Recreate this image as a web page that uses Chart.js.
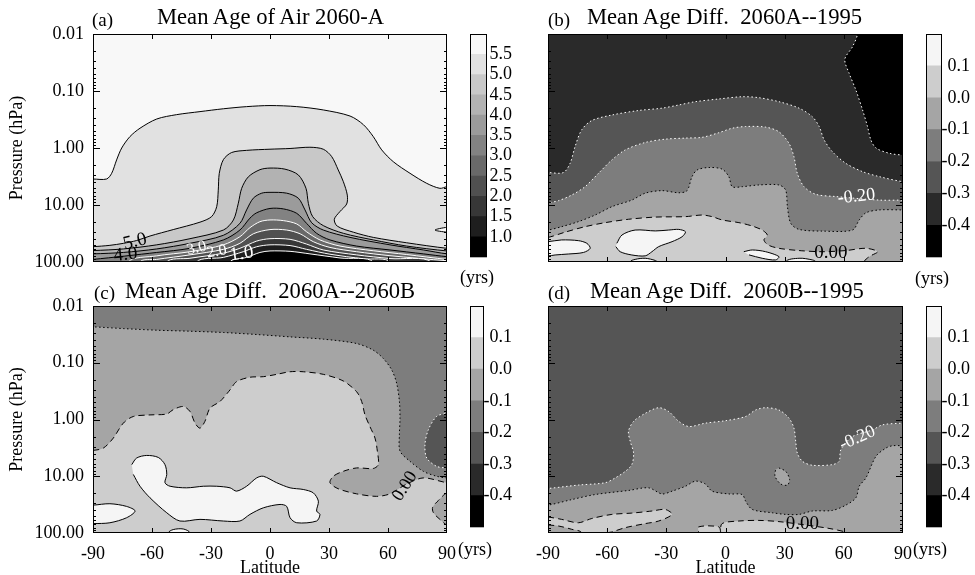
<!DOCTYPE html>
<html>
<head>
<meta charset="utf-8">
<title>Mean Age of Air</title>
<script src="https://cdn.jsdelivr.net/npm/chart.js@4.4.1/dist/chart.umd.min.js"></script>
<style>
  body { margin: 0; background: #fff; }
  #page { position: relative; width: 975px; height: 575px; overflow: hidden; }
  #page canvas { position: absolute; }
  .txt { position: absolute; font-family: 'Liberation Serif', 'DejaVu Serif', serif; color: #000; white-space: pre; line-height: 1; }
</style>
</head>
<body>
<div id="page">
  <canvas id="panelA" width="460" height="290" style="left:0;top:0"></canvas>
  <canvas id="barA" width="54" height="270" style="left:460px;top:0"></canvas>
  <canvas id="panelB" width="455" height="290" style="left:460px;top:0"></canvas>
  <canvas id="barB" width="57" height="270" style="left:915px;top:0"></canvas>
  <canvas id="panelC" width="460" height="295" style="left:0;top:285px"></canvas>
  <canvas id="barC" width="54" height="255" style="left:460px;top:285px"></canvas>
  <canvas id="panelD" width="455" height="295" style="left:460px;top:285px"></canvas>
  <canvas id="barD" width="57" height="255" style="left:915px;top:285px"></canvas>

  <div class="txt" style="left:92px;top:10px;font-size:19px">(a)</div>
  <div class="txt" style="left:157px;top:6px;font-size:22.6px">Mean Age of Air 2060-A</div>
  <div class="txt" style="left:548px;top:10px;font-size:19px">(b)</div>
  <div class="txt" style="left:587px;top:6px;font-size:22.6px">Mean Age Diff.  2060A--1995</div>
  <div class="txt" style="left:94px;top:283px;font-size:19px">(c)</div>
  <div class="txt" style="left:125px;top:280px;font-size:22.6px">Mean Age Diff.  2060A--2060B</div>
  <div class="txt" style="left:548px;top:283px;font-size:19px">(d)</div>
  <div class="txt" style="left:590px;top:280px;font-size:22.6px">Mean Age Diff.  2060B--1995</div>

  <div class="txt" style="left:460px;top:268px;font-size:18px">(yrs)</div>
  <div class="txt" style="left:915px;top:269px;font-size:18px">(yrs)</div>
  <div class="txt" style="left:458px;top:540px;font-size:18px">(yrs)</div>
  <div class="txt" style="left:913px;top:540px;font-size:18px">(yrs)</div>
</div>

<script>
Chart.defaults.font.family = "'Liberation Serif', 'DejaVu Serif', serif";
Chart.defaults.color = '#000';

// contour levels and the grey of each band between them (lowest band first)
const ageLevels = [0.5, 1.0, 1.5, 2.0, 2.5, 3.0, 3.5, 4.0, 4.5, 5.0, 5.5, 6.0];
const ageGray = [0, 30, 55, 80, 105, 130, 155, 178, 200, 225, 248];
const diffLevels = [-0.5, -0.4, -0.3, -0.2, -0.1, 0.0, 0.1, 0.2];
const diffGray = [0, 42, 85, 125, 165, 205, 245];

const latTicks = [-90, -60, -30, 0, 30, 60, 90];
const pressureTicks = [0.01, 0.1, 1, 10, 100];

// ---- (a) mean age 2060-A, contours as (latitude, hPa) ----
const a55Lat = [-90, -83.1, -80.5, -78, -75.4, -71.2, -66.1, -57.6, -47.5, -35.6, -23.7, -11.9, 0, 13.6, 27.1, 40.7, 47.5, 52.5, 56.8, 62.7, 71.2, 79.7, 86.4, 90];
const a55P = [3.5, 3.5, 2.78, 1.62, 1.0, 0.63, 0.45, 0.31, 0.26, 0.23, 0.205, 0.188, 0.18, 0.188, 0.215, 0.275, 0.39, 0.63, 1.08, 1.74, 2.78, 4.17, 5.1, 4.77];
const a55NotchLat = [90, 83.9, 90];
const a55NotchP = [24.6, 27.5, 30];
const a50Lat = [-90, -81.4, -74.6, -67.8, -61, -49.2, -35.6, -29.7, -27.1, -26.3, -25.8, -23.7, -19.5, -11.9, 0, 10.2, 20.3, 27.1, 31.4, 34.7, 37.3, 39.3, 39, 35.6, 32.7, 34.2, 42.4, 52.5, 69.5, 90];
const a50P = [53.8, 51, 47.1, 42, 35, 27, 20, 16, 10.7, 5.5, 2.8, 1.6, 1.2, 1.1, 1.05, 1.02, 0.97, 1.05, 1.42, 2.43, 3.9, 6.7, 9.6, 13, 17.8, 23.5, 30, 37, 46, 57.5];
const a45Lat = [-90, -74.6, -57.6, -40.7, -23.7, -18.6, -16.1, -14.4, -11, -5.1, 0, 7.6, 14.4, 18.3, 19.5, 21.7, 27.1, 37.3, 52.5, 69.5, 90];
const a45P = [63, 59, 50, 39, 27.5, 18.3, 9.3, 5.1, 3.2, 2.4, 2.25, 2.35, 2.97, 5.1, 9.35, 16, 23, 31.4, 41, 52.5, 64];
const a40Lat = [-90, -74.6, -57.6, -40.7, -23.7, -15.3, -11.9, -8.5, -4.2, 0, 8.5, 14.4, 17.8, 21.2, 27.1, 40.7, 61, 78, 90];
const a40P = [72, 68, 59, 47, 34, 21, 12.2, 7.6, 6.2, 6.0, 6.2, 7.6, 12.2, 20.5, 27.5, 37, 50, 61.5, 72];
const a35Lat = [-90, -57.6, -40.7, -23.7, -15.3, -10.2, -6.8, 0, 6.8, 13.6, 18.6, 23.7, 30.5, 44, 61, 78, 90];
const a35P = [90, 68, 57.5, 41, 27.5, 17, 13.7, 11.5, 11.7, 14, 21, 31.4, 41, 52.5, 61.5, 72, 80.5];
const a30Lat = [-72, -57.6, -40.7, -23.7, -15.3, -10.2, -5.1, 0, 6.8, 13.6, 18.6, 25.4, 35.6, 52.5, 69.5, 90];
const a30P = [100, 78, 66, 50, 36, 25, 19.6, 18.3, 18.8, 21.5, 29.5, 41, 52.5, 63.5, 74, 90];
const a25Lat = [-66, -57.6, -40.7, -23.7, -15.3, -8.5, 0, 8.5, 15.3, 22, 30.5, 44, 61, 90];
const a25P = [100, 90, 75, 60, 47, 32, 27, 27.5, 32, 44, 55.5, 66, 77.5, 95];
const a20Lat = [-52.5, -40.7, -23.7, -15.3, -6.8, 0, 10.2, 18.6, 27.1, 44, 61, 82];
const a20P = [100, 86, 70, 57.5, 43, 39, 40, 48.5, 61.5, 75, 87, 100];
const a15Lat = [-37.3, -23.7, -13.6, -6.8, 0, 10.2, 18.6, 30.5, 47.5, 61];
const a15P = [100, 83, 66, 54, 50, 51.5, 60, 73, 88, 100];
const a10Lat = [-20.3, -11.9, -5.1, 0, 10.2, 20.3, 35.6, 52.5];
const a10P = [100, 83, 68, 64, 65, 72, 85, 100];

// ---- (b) difference 2060A - 1995 ----
const b40Lat = [66.9, 64.4, 60.5, 62.7, 66.1, 69.5, 72, 73.7, 76.3, 83.1, 90];
const b40P = [0.01, 0.0167, 0.0278, 0.049, 0.096, 0.215, 0.42, 0.72, 1.0, 1.24, 1.33];
const b30Lat = [-90, -82.2, -78.8, -76.3, -72.9, -67.8, -57.6, -44.1, -32.2, -23.7, -15.3, -3.4, 8.5, 16.9, 27.1, 37.3, 44, 47.5, 50, 54.2, 61, 69.5, 78, 90];
const b30P = [2.7, 2.7, 1.86, 0.95, 0.48, 0.33, 0.264, 0.22, 0.2, 0.176, 0.154, 0.138, 0.126, 0.131, 0.154, 0.2, 0.282, 0.42, 0.72, 1.16, 1.86, 2.6, 3.18, 3.9];
const b20Lat = [-90, -84.7, -78, -71.2, -64.4, -57.6, -50.8, -40.7, -30.5, -20.3, -11.9, -3.4, 3.4, 10.2, 20.3, 27.1, 32.2, 34.7, 36.4, 39.8, 45.8, 55.9, 78, 90];
const b20P = [9.1, 8.4, 6.7, 4.77, 2.78, 1.62, 1.08, 0.8, 0.7, 0.67, 0.65, 0.54, 0.45, 0.42, 0.43, 0.52, 0.83, 1.42, 2.78, 4.77, 6.5, 7.1, 8.2, 8.2];
const b10Lat = [-90, -83.1, -74.6, -66.1, -57.6, -47.5, -40.7, -32.2, -23.7, -19.5, -17, -14.4, -8.5, -1.7, 1.7, 3.4, 8.5, 16.9, 27.1, 30.5, 31.4, 33.1, 37.3, 49.2, 64.4, 67.8, 71.2, 78, 90];
const b10P = [27.5, 24, 19.6, 15, 10.7, 8.2, 6.2, 5.6, 6.1, 5.6, 3.2, 2.43, 2.2, 2.35, 3.18, 4.77, 4.77, 4.45, 4.45, 5.46, 10.7, 21, 26.8, 28.7, 27.5, 18.3, 13.7, 12.2, 12.2];
const b00Lat = [-90, -81.4, -71.2, -61, -49.2, -35.6, -20.3, -11.9, -6.8, -1.7, 6.8, 13.6, 18.6, 21.2, 19.5, 21.7, 27.1, 37.3, 49.2, 61, 71.2, 77.1, 72.9, 70.3];
const b00P = [37, 30, 24, 20.4, 17.8, 16.3, 16, 15, 16, 18.3, 20.4, 23.4, 27.5, 33.6, 41, 50.4, 57.5, 63, 66, 63, 57.5, 66, 80.5, 100];
const bPos1Lat = [-90, -83.1, -74.6, -70.3, -68.6, -72, -79.7, -86.4, -90];
const bPos1P = [44, 41, 42.2, 47, 57.5, 68, 72.4, 75.3, 78.4];
const bPos2Lat = [-55.1, -52.5, -45.8, -35.6, -28.8, -23.7, -20.3, -22, -27.1, -33.9, -37.3, -40.7, -47.5, -53.4, -55.6];
const bPos2P = [47, 33.6, 27.5, 28.5, 27.5, 26.8, 29.5, 36, 44, 53.8, 66, 78, 75.3, 66, 53.8];
const bPos3Lat = [-48.3, -45.8, -40.7, -35.6, -34.7];
const bPos3P = [100, 90, 86, 94, 100];
const bPos4Lat = [9.3, 13.6, 20.3, 27.1, 25.4, 18.6, 11.9];
const bPos4P = [65.9, 61.5, 65.9, 80.5, 92, 86, 75];
const bPos5Lat = [30.5, 37.3, 44, 45.8];
const bPos5P = [100, 86, 92, 100];

// ---- (c) difference 2060A - 2060B ----
const c10Lat = [-90, -74.6, -57.6, -40.7, -23.7, -6.8, 10.2, 27.1, 44, 52.5, 57.6, 61.9, 64.4, 65.8, 66.1, 65.8, 66.1, 71.2, 78, 84.7, 90];
const c10P = [0.0233, 0.025, 0.0267, 0.0278, 0.0293, 0.0318, 0.035, 0.0384, 0.0458, 0.06, 0.084, 0.134, 0.23, 0.48, 0.95, 1.86, 3.6, 5.46, 8.2, 10, 10.7];
const c20Lat = [90, 84.7, 80.5, 78.8, 79.7, 84.7, 90];
const c20P = [0.78, 0.885, 1.52, 2.78, 4.77, 6.68, 7.14];
const c00Lat = [-90, -84.7, -79.7, -74.6, -69.5, -61, -52.5, -49.2, -44.1, -40.7, -38.1, -35.6, -33.1, -30.5, -25.4, -20.3, -17, -10.2, -3.4, 3.4, 10.2, 16.9, 27.1, 37.3, 44, 46.6, 48.3, 50.8, 53.4, 54.6, 55.1, 52.5, 44, 37.3, 32.2, 30.5, 34.7, 44, 54.2, 61, 69.5, 78, 90];
const c00P = [3.5, 3.18, 2.13, 1.16, 0.885, 0.83, 0.8, 0.67, 0.59, 0.72, 1.16, 1.42, 1.08, 0.63, 0.48, 0.3, 0.215, 0.18, 0.176, 0.16, 0.144, 0.144, 0.16, 0.21, 0.323, 0.48, 0.83, 1.33, 2.13, 3.64, 6.24, 7.3, 7.14, 8.17, 10, 13, 16.6, 20.4, 22.6, 20.4, 13.7, 10.7, 13];
const cNegLat = [90, 85.6, 82.7, 83.1, 86.4, 90];
const cNegP = [19.6, 26.8, 35.2, 44, 57.5, 72];
const cPos1Lat = [-70.3, -67.8, -62.7, -56.8, -53.4, -52.5, -53.4, -50.8, -42.4, -33.9, -27.1, -20.3, -17, -11.9, -6.8, -3.4, 3.4, 10.2, 16.9, 22, 24.6, 23.7, 25.4, 23.7, 13.6, 10.2, 8.5, 5.1, -3.4, -10.2, -15.3, -23.7, -35.6, -45.8, -52.5, -61, -66.1, -69.5];
const cPos1P = [6.24, 4.77, 4.3, 4.66, 6.24, 9.3, 13, 15, 16, 15, 15, 16, 18.3, 15, 10.7, 10, 13, 16, 17.1, 19.6, 27.5, 41, 47, 61.5, 66, 53.8, 34, 31.4, 36, 47, 61.5, 61.5, 57.5, 61.5, 44, 24, 15, 9.3];
const cPos2Lat = [-90, -81.4, -72.9, -68.6, -72.9, -81.4, -90];
const cPos2P = [32.3, 30.5, 34, 41, 53.8, 66, 68.3];
const cPos3Lat = [-51.7, -49.2, -44.1, -40.7];
const cPos3P = [100, 87, 85, 100];

// ---- (d) difference 2060B - 1995 ----
const d20Lat = [-90, -74.6, -61, -55.9, -50.8, -47.5, -46.6, -48.3, -49.2, -46.6, -40.7, -33.9, -28.8, -23.7, -18.6, -10.2, 0, 10.2, 15.3, 20.3, 27.1, 32.2, 34.7, 35.6, 36.4, 39, 44, 54.2, 57.6, 58.5, 64.4, 74.6, 79.7, 90];
const d20P = [16.4, 14.3, 13, 10.7, 8.2, 6.24, 3.9, 2.43, 1.62, 1.08, 0.78, 0.62, 0.724, 1.08, 1.33, 1.16, 1.05, 0.885, 0.68, 0.62, 0.68, 0.95, 1.42, 2.43, 3.9, 5.46, 6.4, 6.24, 5.46, 3.4, 2.0, 1.52, 1.24, 1.16];
const d10Lat = [-90, -78, -66.1, -49.2, -39, -32.2, -27.1, -20.3, -15.3, -10.2, -6.8, 1.7, 8.5, 10.2, 13.6, 23.7, 30.5, 37.3, 44, 54.2, 61, 66.1, 67.8, 71.2, 76.3, 81.4, 84.7, 90];
const d10P = [32.3, 25.8, 21, 17.8, 16, 20.5, 18.3, 15, 12.2, 13.7, 18.3, 20.5, 21, 27.5, 38.5, 44, 47, 47, 41, 40, 32.3, 24, 15, 10.7, 4.45, 3.18, 2.9, 2.9];
const d10OvalLat = [27.1, 30.5, 32.5, 31.4, 28, 25.1, 25.4];
const d10OvalP = [7.14, 8.17, 11.4, 14.3, 13.7, 10, 7.6];
const d00aLat = [-90, -83.1, -74.6, -67.8, -57.6, -47.5, -37.3, -30.5, -27.1, -33.9, -40.7, -50.8, -57.6, -59.3];
const d00aP = [52.4, 57.5, 66, 55.5, 47, 44.6, 41, 38.5, 47, 61.5, 68.3, 80.5, 96, 100];
const d00bLat = [-2.5, -1.7, 6.8, 16.9, 27.1, 40.7, 52.5, 61, 61.9];
const d00bP = [100, 68.3, 61.5, 60, 63, 72.4, 83, 96, 100];
const d00cLat = [-13.6, -13.6, -3.4, -2.5];
const d00cP = [100, 78, 78, 100];
const dNegLat = [-90, -84.7, -78, -72.9];
const dNegP = [72.4, 75.3, 86, 100];

const BLACK = '#000';
const WHITE = '#fff';
const SOLID = [];
const DOTS = [1.5, 2.5];
const DASHES = [6, 4];
const BELOW = ['BR', 'BL'];

const gray = v => 'rgb(' + v + ',' + v + ',' + v + ')';

// closing points sit just outside the frame so their edges are clipped away
const OUT_LAT = 95;
const OUT_TOP = 0.003;
const OUT_BOTTOM = 400;
const CORNERS = {
    TL: {x: -OUT_LAT, y: OUT_TOP}, TR: {x: OUT_LAT, y: OUT_TOP},
    BL: {x: -OUT_LAT, y: OUT_BOTTOM}, BR: {x: OUT_LAT, y: OUT_BOTTOM}
};

function pushOut(pt, edge) {
    if (edge === 'L') return {x: -OUT_LAT, y: pt.y};
    if (edge === 'R') return {x: OUT_LAT, y: pt.y};
    if (edge === 'T') return {x: pt.x, y: OUT_TOP};
    return {x: pt.x, y: OUT_BOTTOM};
}

// polygon of one filled band: the contour itself, closed round the outside of the frame
function outline(r) {
    const pts = r.lat.map((x, i) => ({x: x, y: r.p[i]}));
    if (!r.from) return pts;
    const first = pts[0];
    const last = pts[pts.length - 1];
    return [pushOut(first, r.from)].concat(pts, [pushOut(last, r.to)], (r.corners || []).map(c => CORNERS[c]));
}

const regionsA = [
    {lat: a55Lat, p: a55P, from: 'L', to: 'R', corners: BELOW, shade: ageGray[9], line: BLACK, dash: SOLID},
    {lat: a55NotchLat, p: a55NotchP, from: 'R', to: 'R', shade: ageGray[10], line: BLACK, dash: SOLID},
    {lat: a50Lat, p: a50P, from: 'L', to: 'R', corners: BELOW, shade: ageGray[8], line: BLACK, dash: SOLID},
    {lat: a45Lat, p: a45P, from: 'L', to: 'R', corners: BELOW, shade: ageGray[7], line: BLACK, dash: SOLID},
    {lat: a40Lat, p: a40P, from: 'L', to: 'R', corners: BELOW, shade: ageGray[6], line: BLACK, dash: SOLID},
    {lat: a35Lat, p: a35P, from: 'L', to: 'R', corners: BELOW, shade: ageGray[5], line: BLACK, dash: SOLID},
    {lat: a30Lat, p: a30P, from: 'B', to: 'R', corners: ['BR'], shade: ageGray[4], line: WHITE, dash: SOLID},
    {lat: a25Lat, p: a25P, from: 'B', to: 'R', corners: ['BR'], shade: ageGray[3], line: WHITE, dash: SOLID},
    {lat: a20Lat, p: a20P, from: 'B', to: 'B', shade: ageGray[2], line: WHITE, dash: SOLID},
    {lat: a15Lat, p: a15P, from: 'B', to: 'B', shade: ageGray[1], line: WHITE, dash: SOLID},
    {lat: a10Lat, p: a10P, from: 'B', to: 'B', shade: ageGray[0], line: WHITE, dash: SOLID}
];

const regionsB = [
    {lat: b40Lat, p: b40P, from: 'T', to: 'R', corners: ['TR'], shade: diffGray[0], line: WHITE, dash: DOTS},
    {lat: b30Lat, p: b30P, from: 'L', to: 'R', corners: BELOW, shade: diffGray[2], line: WHITE, dash: DOTS},
    {lat: b20Lat, p: b20P, from: 'L', to: 'R', corners: BELOW, shade: diffGray[3], line: WHITE, dash: DOTS},
    {lat: b10Lat, p: b10P, from: 'L', to: 'R', corners: BELOW, shade: diffGray[4], line: BLACK, dash: DOTS},
    {lat: b00Lat, p: b00P, from: 'L', to: 'B', corners: ['BL'], shade: diffGray[5], line: BLACK, dash: DASHES},
    {lat: bPos1Lat, p: bPos1P, from: 'L', to: 'L', shade: diffGray[6], line: BLACK, dash: SOLID},
    {lat: bPos2Lat, p: bPos2P, shade: diffGray[6], line: BLACK, dash: SOLID},
    {lat: bPos3Lat, p: bPos3P, from: 'B', to: 'B', shade: diffGray[6], line: BLACK, dash: SOLID},
    {lat: bPos4Lat, p: bPos4P, shade: diffGray[6], line: BLACK, dash: SOLID},
    {lat: bPos5Lat, p: bPos5P, from: 'B', to: 'B', shade: diffGray[6], line: BLACK, dash: SOLID}
];

const regionsC = [
    {lat: c10Lat, p: c10P, from: 'L', to: 'R', corners: BELOW, shade: diffGray[4], line: BLACK, dash: DOTS},
    {lat: c20Lat, p: c20P, from: 'R', to: 'R', shade: diffGray[2], line: WHITE, dash: DOTS},
    {lat: c00Lat, p: c00P, from: 'L', to: 'R', corners: BELOW, shade: diffGray[5], line: BLACK, dash: DASHES},
    {lat: cNegLat, p: cNegP, from: 'R', to: 'R', shade: diffGray[4], line: BLACK, dash: DASHES},
    {lat: cPos1Lat, p: cPos1P, shade: diffGray[6], line: BLACK, dash: SOLID},
    {lat: cPos2Lat, p: cPos2P, from: 'L', to: 'L', shade: diffGray[6], line: BLACK, dash: SOLID},
    {lat: cPos3Lat, p: cPos3P, from: 'B', to: 'B', shade: diffGray[6], line: BLACK, dash: SOLID}
];

const regionsD = [
    {lat: d20Lat, p: d20P, from: 'L', to: 'R', corners: BELOW, shade: diffGray[3], line: WHITE, dash: DOTS},
    {lat: d10Lat, p: d10P, from: 'L', to: 'R', corners: BELOW, shade: diffGray[4], line: BLACK, dash: DOTS},
    {lat: d10OvalLat, p: d10OvalP, shade: diffGray[4], line: BLACK, dash: DOTS},
    {lat: d00aLat, p: d00aP, from: 'L', to: 'B', corners: ['BL'], shade: diffGray[5], line: BLACK, dash: DASHES},
    {lat: d00bLat, p: d00bP, from: 'B', to: 'B', shade: diffGray[5], line: BLACK, dash: DASHES},
    {lat: d00cLat, p: d00cP, from: 'B', to: 'B', shade: diffGray[5], line: BLACK, dash: DASHES},
    {lat: dNegLat, p: dNegP, from: 'L', to: 'B', corners: ['BL'], shade: diffGray[4], line: BLACK, dash: DASHES}
];

// inline contour labels
const notesA = [
    {lat: -68.6, p: 44, text: '5.0', color: BLACK, angle: -14, size: 19},
    {lat: -73.4, p: 75, text: '4.0', color: BLACK, angle: -6, size: 19},
    {lat: -37.3, p: 57.5, text: '3.0', color: WHITE, angle: -14, size: 16},
    {lat: -27.1, p: 66, text: '2.0', color: WHITE, angle: -10, size: 16},
    {lat: -14.4, p: 72, text: '1.0', color: WHITE, angle: -8, size: 19}
];
const notesB = [
    {lat: 66.4, p: 7.14, text: '-0.20', color: WHITE, angle: -6, size: 18},
    {lat: 53.4, p: 68.3, text: '0.00', color: BLACK, angle: 0, size: 19}
];
const notesC = [
    {lat: 68.6, p: 15, text: '0.00', color: BLACK, angle: -58, size: 18}
];
const notesD = [
    {lat: 66.9, p: 2.13, text: '-0.20', color: WHITE, angle: -24, size: 18},
    {lat: 39, p: 68.3, text: '0.00', color: BLACK, angle: 0, size: 19}
];

// background band, inward tick marks, frame and contour labels
const panelFrame = {
    id: 'panelFrame',
    beforeDatasetsDraw(chart, args, opts) {
        const {ctx, chartArea: a} = chart;
        ctx.save();
        ctx.fillStyle = opts.background;
        ctx.fillRect(a.left, a.top, a.width, a.height);
        ctx.restore();
    },
    afterDatasetsDraw(chart, args, opts) {
        const {ctx, chartArea: a, scales: {x, y}} = chart;
        ctx.save();
        (opts.notes || []).forEach(n => {
            ctx.save();
            ctx.translate(x.getPixelForValue(n.lat), y.getPixelForValue(n.p));
            ctx.rotate(n.angle * Math.PI / 180);
            ctx.font = n.size + "px 'Liberation Serif', serif";
            ctx.fillStyle = n.color;
            ctx.textAlign = 'center';
            ctx.textBaseline = 'middle';
            ctx.fillText(n.text, 0, 0);
            ctx.restore();
        });

        ctx.strokeStyle = '#000';
        ctx.lineWidth = 1;
        ctx.beginPath();
        latTicks.forEach(v => {
            if (v <= x.min || v >= x.max) return;
            const px = Math.round(x.getPixelForValue(v)) + 0.5;
            ctx.moveTo(px, a.top); ctx.lineTo(px, a.top + 5);
            ctx.moveTo(px, a.bottom); ctx.lineTo(px, a.bottom - 5);
        });
        for (let e = -2; e < 2; e++) {
            for (let m = 1; m < 10; m++) {
                const v = m * Math.pow(10, e);
                if (v <= y.min * 1.0001 || v >= y.max * 0.9999) continue;
                const py = Math.round(y.getPixelForValue(v)) + 0.5;
                const len = m === 1 ? 7 : 3;
                ctx.moveTo(a.left, py); ctx.lineTo(a.left + len, py);
                ctx.moveTo(a.right, py); ctx.lineTo(a.right - len, py);
            }
        }
        ctx.stroke();
        ctx.strokeRect(a.left + 0.5, a.top + 0.5, a.width - 1, a.height - 1);
        ctx.restore();
    }
};

const barFrame = {
    id: 'barFrame',
    afterDatasetsDraw(chart) {
        const {ctx, chartArea: a} = chart;
        ctx.save();
        ctx.strokeStyle = '#000';
        ctx.lineWidth = 1;
        ctx.strokeRect(a.left + 0.5, a.top + 0.5, a.width - 1, a.height - 1);
        ctx.restore();
    }
};

function drawPanel(cfg) {
    const n = cfg.regions.length;
    const datasets = cfg.regions.map((r, i) => ({
        data: outline(r),
        fill: 'shape',
        backgroundColor: gray(r.shade),
        borderColor: r.line,
        borderWidth: 1,
        borderDash: r.dash,
        order: n - i
    }));

    new Chart(document.getElementById(cfg.canvas), {
        type: 'line',
        data: {datasets: datasets},
        options: {
            responsive: false,
            animation: false,
            events: [],
            layout: {padding: {top: cfg.padTop, right: cfg.padRight, left: 0, bottom: 0}},
            elements: {point: {radius: 0}, line: {tension: 0.3}},
            plugins: {
                legend: {display: false},
                tooltip: {enabled: false},
                panelFrame: {background: gray(cfg.background), notes: cfg.notes}
            },
            scales: {
                x: {
                    type: 'linear',
                    min: -90,
                    max: 90,
                    afterBuildTicks: s => { s.ticks = latTicks.map(v => ({value: v})); },
                    ticks: {display: cfg.showX, padding: 2, maxRotation: 0, autoSkip: false, font: {size: 18}},
                    grid: {display: false},
                    border: {display: false},
                    title: {display: cfg.showX, text: 'Latitude', font: {size: 18}, padding: {top: 0, bottom: 1}},
                    afterFit: s => { s.height = cfg.xHeight; }
                },
                y: {
                    type: 'logarithmic',
                    reverse: true,
                    min: 0.01,
                    max: 100,
                    afterBuildTicks: s => { s.ticks = pressureTicks.map(v => ({value: v})); },
                    ticks: {display: cfg.showY, padding: 1, autoSkip: false, font: {size: 18}, callback: v => Number(v).toFixed(2)},
                    grid: {display: false},
                    border: {display: false},
                    title: {display: cfg.showY, text: 'Pressure (hPa)', font: {size: 18}, padding: {top: 6, bottom: 0}},
                    afterFit: s => { s.width = cfg.yWidth; }
                }
            }
        },
        plugins: [panelFrame]
    });
}

function drawScaleBar(cfg) {
    const levels = cfg.levels;
    const datasets = cfg.shades.map((g, i) => ({
        data: [[levels[i], levels[i + 1]]],
        backgroundColor: gray(g),
        borderWidth: 0,
        barPercentage: 1,
        categoryPercentage: 1,
        grouped: false
    }));

    new Chart(document.getElementById(cfg.canvas), {
        type: 'bar',
        data: {labels: [''], datasets: datasets},
        options: {
            responsive: false,
            animation: false,
            events: [],
            layout: {padding: {top: cfg.padTop, bottom: cfg.padBottom, left: cfg.padLeft, right: 2}},
            plugins: {legend: {display: false}, tooltip: {enabled: false}},
            scales: {
                x: {display: false},
                y: {
                    position: 'right',
                    min: levels[0],
                    max: levels[levels.length - 1],
                    afterBuildTicks: s => { s.ticks = levels.slice(1, -1).map(v => ({value: v})); },
                    ticks: {padding: 2, crossAlign: 'far', font: {size: 18}, callback: v => Number(v).toFixed(1)},
                    grid: {display: false},
                    border: {display: false},
                    afterFit: s => { s.width = cfg.axisWidth; }
                }
            }
        },
        plugins: [barFrame]
    });
}

drawPanel({canvas: 'panelA', regions: regionsA, notes: notesA, background: ageGray[10],
    padTop: 34, padRight: 13, yWidth: 93, xHeight: 28, showX: false, showY: true});
drawPanel({canvas: 'panelB', regions: regionsB, notes: notesB, background: diffGray[1],
    padTop: 34, padRight: 12, yWidth: 88, xHeight: 28, showX: false, showY: false});
drawPanel({canvas: 'panelC', regions: regionsC, notes: notesC, background: diffGray[3],
    padTop: 21, padRight: 13, yWidth: 93, xHeight: 47, showX: true, showY: true});
drawPanel({canvas: 'panelD', regions: regionsD, notes: notesD, background: diffGray[2],
    padTop: 21, padRight: 12, yWidth: 88, xHeight: 47, showX: true, showY: false});

drawScaleBar({canvas: 'barA', levels: ageLevels, shades: ageGray, padTop: 34, padBottom: 8, padLeft: 10, axisWidth: 25});
drawScaleBar({canvas: 'barB', levels: diffLevels, shades: diffGray, padTop: 34, padBottom: 8, padLeft: 11, axisWidth: 28});
drawScaleBar({canvas: 'barC', levels: diffLevels, shades: diffGray, padTop: 21, padBottom: 7, padLeft: 10, axisWidth: 28});
drawScaleBar({canvas: 'barD', levels: diffLevels, shades: diffGray, padTop: 21, padBottom: 7, padLeft: 11, axisWidth: 28});
</script>
</body>
</html>
